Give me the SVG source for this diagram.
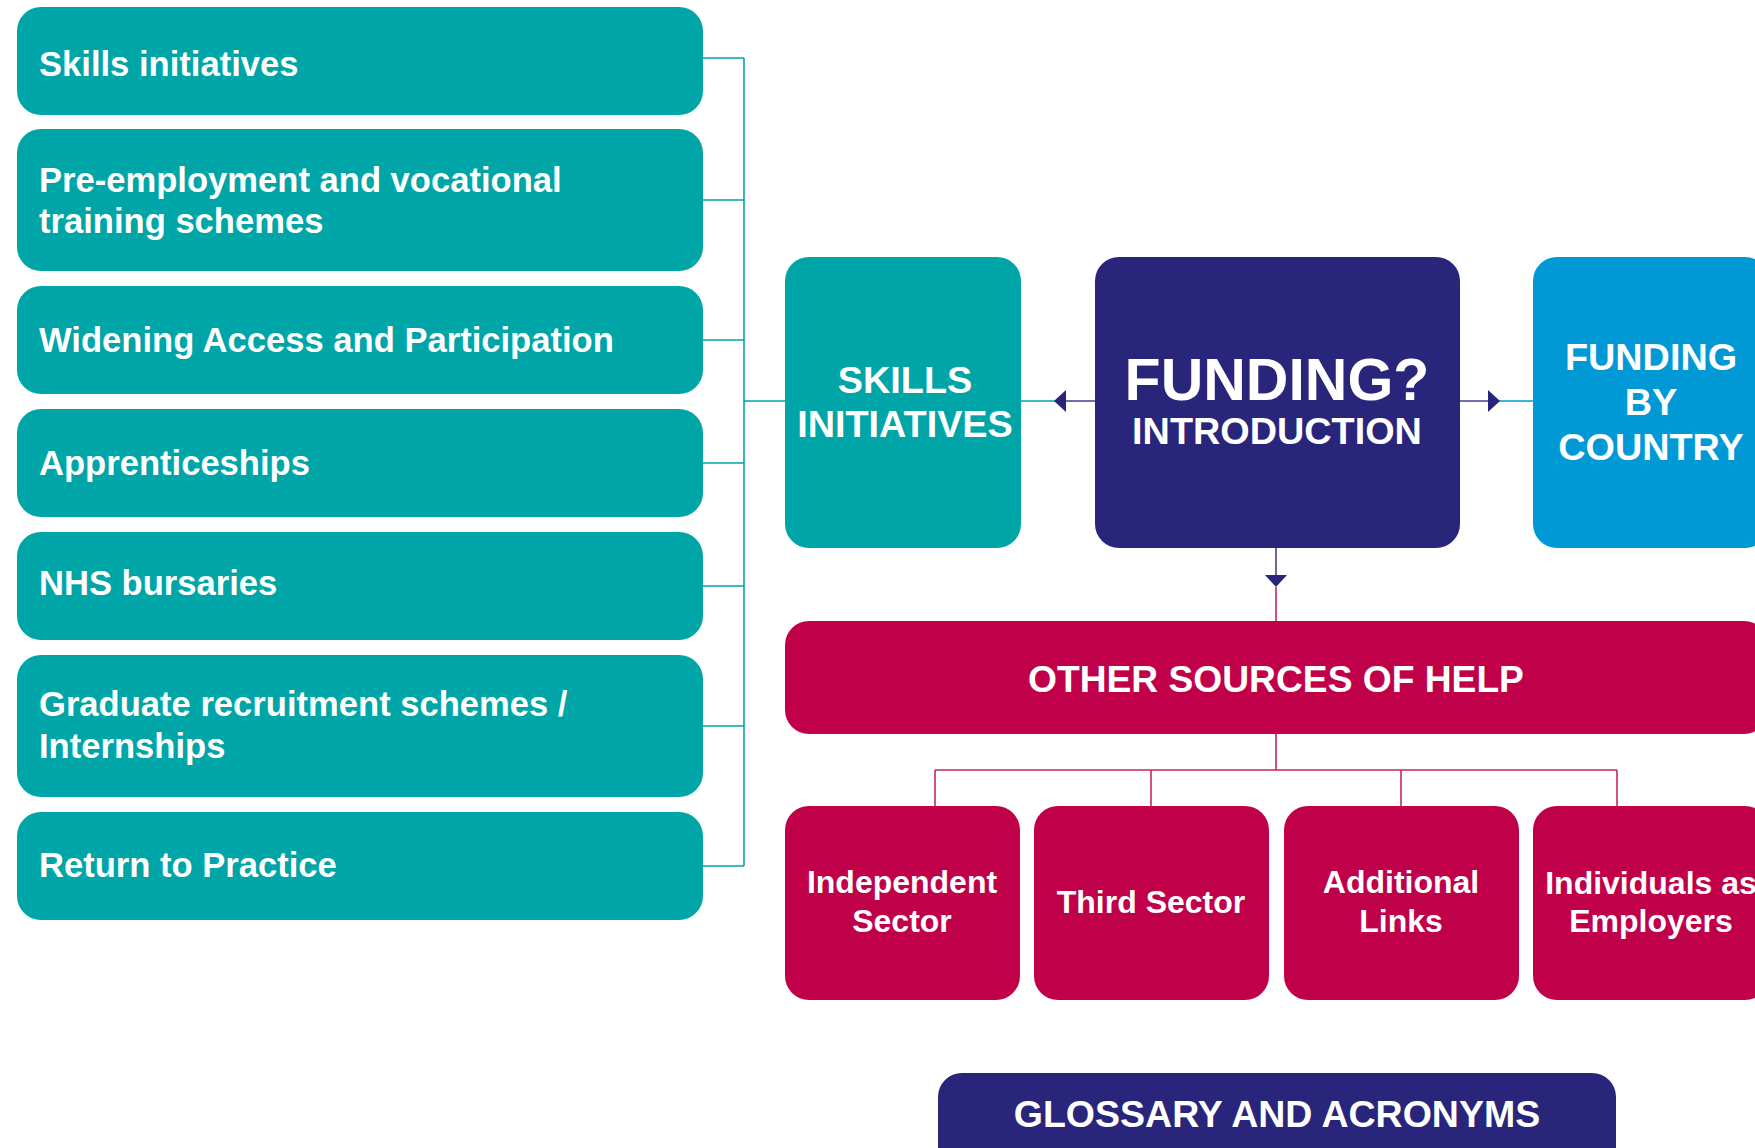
<svg xmlns="http://www.w3.org/2000/svg" width="1755" height="1148" viewBox="0 0 1755 1148">
<style>
.teal{fill:#00A5A8}
.navy{fill:#29257A}
.blue{fill:#0099D6}
.red{fill:#C1004A}
.t{font-family:"Liberation Sans",Arial,sans-serif;font-weight:bold;fill:#fff}
.l{font-size:34.6px}
.c{text-anchor:middle}
.h{font-size:37.8px}
.s{font-size:32px}
.ln{fill:none;stroke-width:1.6}
</style>
<rect width="1755" height="1148" fill="#fff"/>
<g id="connectors">
<path class="ln" stroke="#00A5A8" d="M703 58H744M703 200H744M703 340H744M703 463H744M703 586H744M703 726H744M703 866H744M744 58V866M744 401H786M1021 401H1055"/>
<path class="ln" stroke="#4A3F8F" d="M1066 401H1095M1460 401H1488M1276 548V576"/>
<path class="ln" stroke="#0099D6" d="M1499 401H1534"/>
<polygon class="navy" points="1054,401 1066,390 1066,412"/>
<polygon class="navy" points="1500,401 1488,390 1488,412"/>
<polygon class="navy" points="1276,587 1265,575 1287,575"/>
<path class="ln" stroke="#C8285E" d="M1276 587V621M1276 734V770M935 770H1617M935 770V806M1151 770V806M1401 770V806M1617 770V806"/>
</g>
<g id="n1"><rect class="teal" x="17" y="7" width="686" height="108" rx="24"/><text class="t l" x="39" y="76">Skills initiatives</text></g>
<g id="n2"><rect class="teal" x="17" y="129" width="686" height="142" rx="24"/><text class="t l" x="39" y="192">Pre-employment and vocational</text><text class="t l" x="39" y="233">training schemes</text></g>
<g id="n3"><rect class="teal" x="17" y="286" width="686" height="108" rx="24"/><text class="t l" x="39" y="352">Widening Access and Participation</text></g>
<g id="n4"><rect class="teal" x="17" y="409" width="686" height="108" rx="24"/><text class="t l" x="39" y="475">Apprenticeships</text></g>
<g id="n5"><rect class="teal" x="17" y="532" width="686" height="108" rx="24"/><text class="t l" x="39" y="595">NHS bursaries</text></g>
<g id="n6"><rect class="teal" x="17" y="655" width="686" height="142" rx="24"/><text class="t l" x="39" y="716">Graduate recruitment schemes /</text><text class="t l" x="39" y="758">Internships</text></g>
<g id="n7"><rect class="teal" x="17" y="812" width="686" height="108" rx="24"/><text class="t l" x="39" y="877">Return to Practice</text></g>
<g id="skills"><rect class="teal" x="785" y="257" width="236" height="291" rx="24"/><text class="t h c" x="905" y="393">SKILLS</text><text class="t h c" x="905" y="437">INITIATIVES</text></g>
<g id="funding"><rect class="navy" x="1095" y="257" width="365" height="291" rx="24"/><text class="t c" x="1277" y="400" font-size="59">FUNDING?</text><text class="t c" x="1277" y="444" font-size="37.8">INTRODUCTION</text></g>
<g id="country"><rect class="blue" x="1533" y="257" width="236" height="291" rx="24"/><text class="t h c" x="1651" y="370">FUNDING</text><text class="t h c" x="1651" y="415">BY</text><text class="t h c" x="1651" y="460">COUNTRY</text></g>
<g id="other"><rect class="red" x="785" y="621" width="983" height="113" rx="24"/><text class="t c" x="1276" y="692" font-size="37.2">OTHER SOURCES OF HELP</text></g>
<g id="independent"><rect class="red" x="785" y="806" width="235" height="194" rx="24"/><text class="t s c" x="902" y="893">Independent</text><text class="t s c" x="902" y="932">Sector</text></g>
<g id="third"><rect class="red" x="1034" y="806" width="235" height="194" rx="24"/><text class="t s c" x="1151" y="913">Third Sector</text></g>
<g id="additional"><rect class="red" x="1284" y="806" width="235" height="194" rx="24"/><text class="t s c" x="1401" y="893">Additional</text><text class="t s c" x="1401" y="932">Links</text></g>
<g id="individuals"><rect class="red" x="1533" y="806" width="236" height="194" rx="24"/><text class="t s c" x="1651" y="894">Individuals as</text><text class="t s c" x="1651" y="932">Employers</text></g>
<g id="glossary"><rect class="navy" x="938" y="1073" width="678" height="100" rx="24"/><text class="t c" x="1277" y="1127" font-size="37.5">GLOSSARY AND ACRONYMS</text></g>
</svg>
